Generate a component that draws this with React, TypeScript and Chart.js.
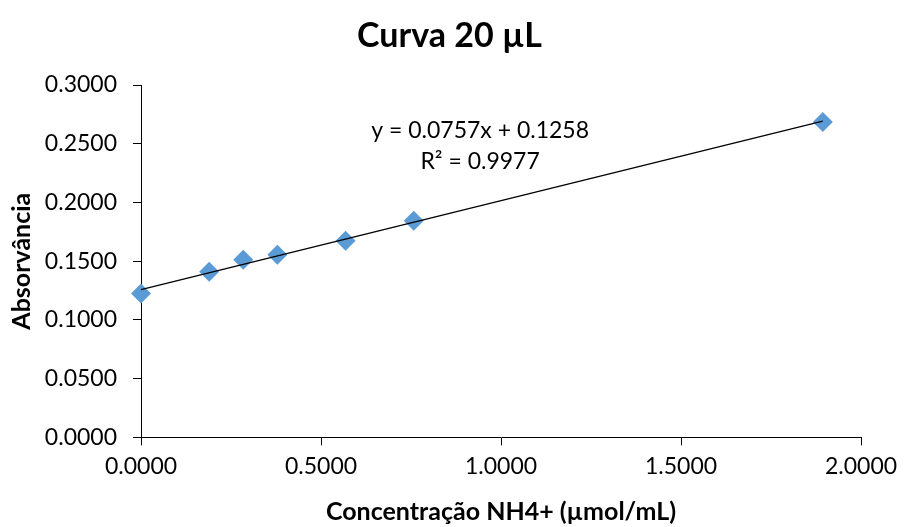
import React, { useEffect, useRef } from "react";
import { Chart, registerables } from "chart.js";

Chart.register(...registerables);

const chartTitle = "Curva 20 µL";
const concentrations = [0, 0.1894, 0.2841, 0.3788, 0.5682, 0.7576, 1.8939];
const absorbances = [0.1224, 0.1411, 0.1513, 0.1555, 0.1674, 0.1844, 0.2686];
const slope = 0.0757;
const intercept = 0.1258;
const equationLabels = ["y = 0.0757x + 0.1258", "R² = 0.9977"];
const xTicks = [0, 0.5, 1, 1.5, 2];
const yTicks = [0, 0.05, 0.1, 0.15, 0.2, 0.25, 0.3];

const FONT = "Lato, 'Open Sans', sans-serif";

const labelsPlugin = {
  id: "labelsPlugin",
  afterDatasetsDraw(chart: any) {
    const { ctx, scales } = chart;
    const x = scales.x.getPixelForValue(0.942);
    const y1 = scales.y.getPixelForValue(0.2609);
    const y2 = scales.y.getPixelForValue(0.2346);
    ctx.save();
    ctx.fillStyle = "#000";
    ctx.font = `23px ${FONT}`;
    ctx.textAlign = "center";
    ctx.textBaseline = "middle";
    ctx.fillText(equationLabels[0], x, y1);
    ctx.fillText(equationLabels[1], x, y2);
    ctx.font = `bold 34px ${FONT}`;
    ctx.fillText(chartTitle, chart.width / 2 - 3, 36);
    ctx.restore();
  },
};

export default function App() {
  const ref = useRef<HTMLCanvasElement>(null);
  useEffect(() => {
    if (!ref.current) return;
    const points = concentrations.map((c, i) => ({ x: c, y: absorbances[i] }));
    const xEnd = concentrations[concentrations.length - 1];
    const trend = [
      { x: concentrations[0], y: intercept + slope * concentrations[0] },
      { x: xEnd, y: intercept + slope * xEnd },
    ];
    const chart = new Chart(ref.current, {
      type: "scatter",
      data: {
        datasets: [
          {
            type: "line",
            label: "Linear",
            data: trend,
            borderColor: "#000",
            borderWidth: 1.3,
            pointRadius: 0,
            fill: false,
            clip: false,
          } as any,
          {
            label: "Absorvância",
            data: points,
            pointStyle: "rectRot",
            pointRadius: 10,
            backgroundColor: "#5B9BD5",
            borderColor: "#5B9BD5",
            borderWidth: 0,
            clip: false,
          } as any,
        ],
      },
      options: {
        responsive: false,
        animation: false,
        layout: { padding: { left: 0, right: 44, top: 85, bottom: 0 } },
        plugins: {
          legend: { display: false },
          tooltip: { enabled: false },
          title: { display: false },
        },
        scales: {
          x: {
            type: "linear",
            min: 0,
            max: 2,
            afterBuildTicks: (s: any) => {
              s.ticks = xTicks.map((v) => ({ value: v }));
            },
            ticks: {
              color: "#000",
              font: { family: FONT, size: 23 },
              padding: 7,
              maxRotation: 0,
              callback: (v: any) => Number(v).toFixed(4),
            },
            grid: { drawOnChartArea: false, drawTicks: true, tickLength: 8, color: "#000" },
            border: { color: "#000", width: 1 },
            title: {
              display: true,
              text: "Concentração NH4+ (µmol/mL)",
              color: "#000",
              font: { family: FONT, size: 25, weight: "bold" },
              padding: { top: 10, bottom: 0 },
            },
          },
          y: {
            type: "linear",
            min: 0,
            max: 0.3,
            afterBuildTicks: (s: any) => {
              s.ticks = yTicks.map((v) => ({ value: v }));
            },
            afterFit: (s: any) => {
              s.width = 141;
            },
            ticks: {
              color: "#000",
              font: { family: FONT, size: 23 },
              padding: 16,
              callback: (v: any) => Number(v).toFixed(4),
            },
            grid: { drawOnChartArea: false, drawTicks: true, tickLength: 8, color: "#000" },
            border: { color: "#000", width: 1 },
            title: {
              display: true,
              text: "Absorvância",
              color: "#000",
              font: { family: FONT, size: 25, weight: "bold" },
              padding: { top: 7, bottom: 0 },
            },
          },
        },
      },
      plugins: [labelsPlugin],
    });
    return () => chart.destroy();
  }, []);
  return (
    <div style={{ position: "fixed", left: 0, top: 0, width: 905, height: 527, background: "#fff" }}>
      <canvas ref={ref} width={905} height={527} />
    </div>
  );
}
